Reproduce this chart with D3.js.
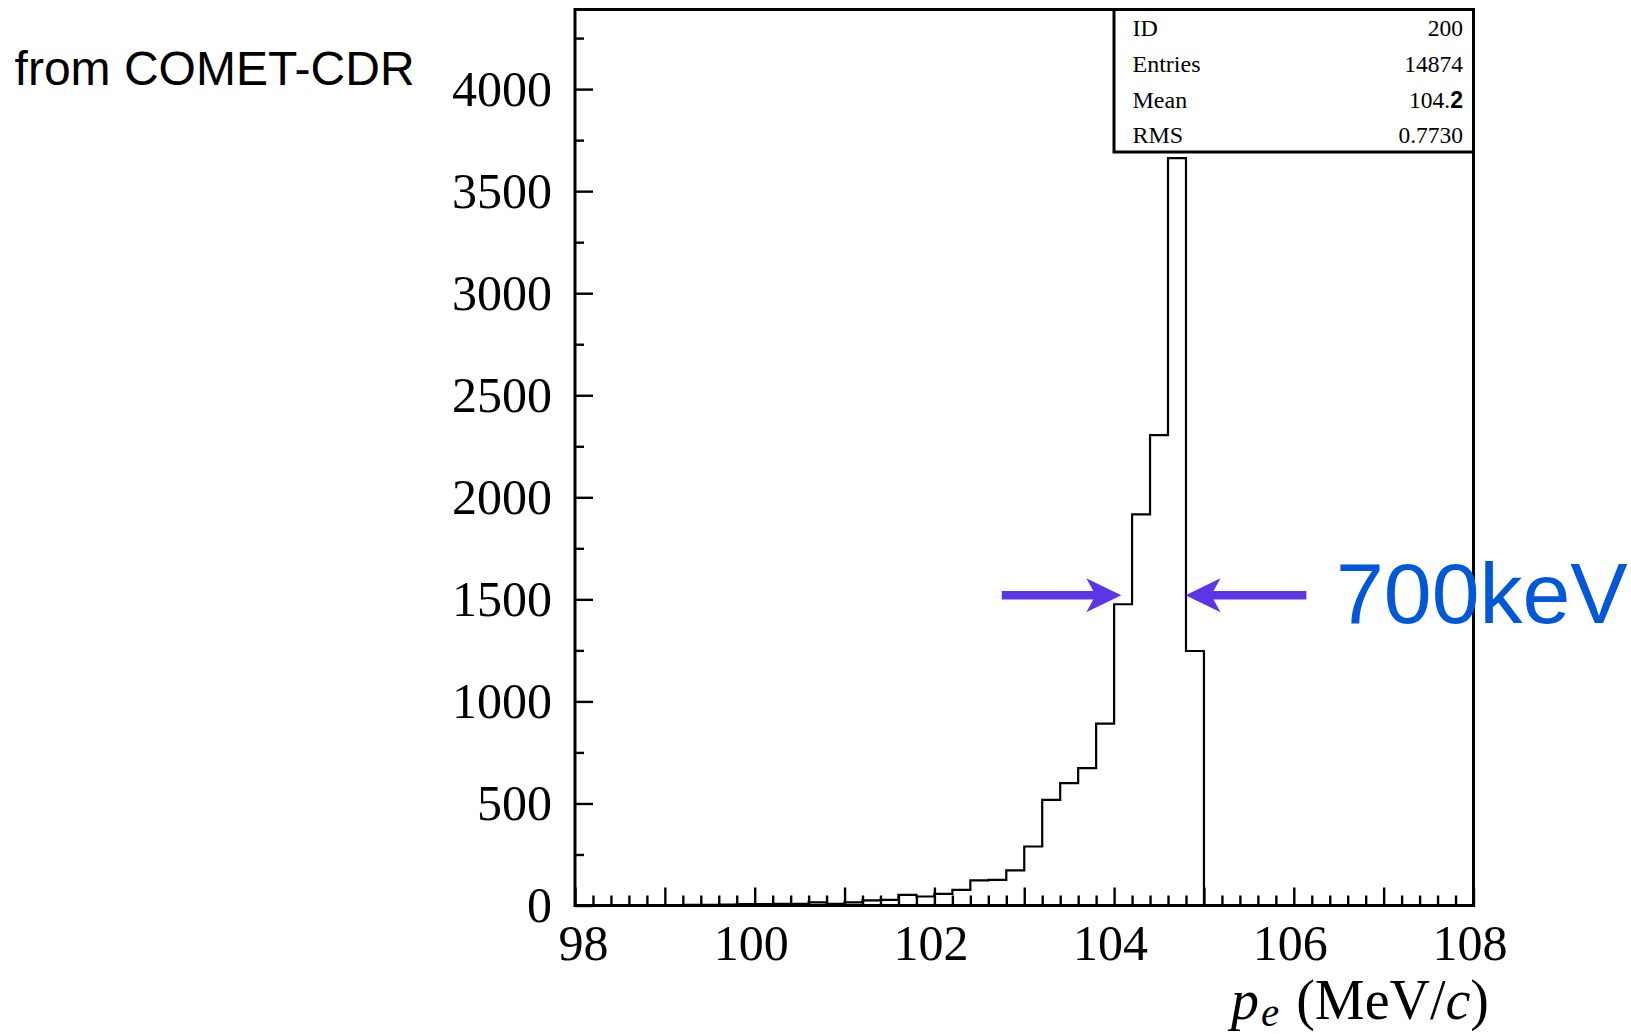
<!DOCTYPE html>
<html>
<head>
<meta charset="utf-8">
<script src="https://cdn.jsdelivr.net/npm/d3@7"></script>
<style>
  html, body { margin: 0; padding: 0; background: #fff; }
  svg { display: block; }
</style>
</head>
<body>
<svg id="chart" width="1631" height="1034"></svg>
<script>
// ---- data ----
const binEdgesStart = 98.0;      // first bin low edge (MeV/c)
const binWidth = 0.2;            // bin width (MeV/c)
const counts = [
  1, 1, 1, 2, 2, 2, 3, 3, 4, 7,
  7, 8, 8, 15, 8, 15, 25, 28, 52, 44,
  57, 77, 123, 126, 172, 289, 518, 600, 673, 891,
  1476, 1916, 2305, 3662, 1247, 0, 0, 0, 0, 0,
  0, 0, 0, 0, 0, 0, 0, 0, 0, 0
];
const xLabelTicks = [98, 100, 102, 104, 106, 108];
const xMajorTicks = [99, 101, 103, 105, 107];
const yLabelTicks = [0, 500, 1000, 1500, 2000, 2500, 3000, 3500, 4000];
const statNames = ["ID", "Entries", "Mean", "RMS"];
const statValues = ["200", "14874", "104.2", "0.7730"];
const widthAnnotation = { label: "700keV", level: 1520, leftFrom: 102.75, leftTo: 104.08, rightFrom: 106.14, rightTo: 104.795 };

// ---- layout ----
const svg = d3.select("#chart");
const L = 575, R = 1473.5, T = 9.5, B = 905.5;
const x = d3.scaleLinear().domain([98, 108]).range([L, R]);
const y = d3.scaleLinear().domain([0, 4390]).range([B, T]);
const serif = "'Liberation Serif', 'Times New Roman', serif";
const sans = "'Liberation Sans', Arial, sans-serif";

// minor ticks
const xMinor = d3.range(0, 51).map(i => 98 + i * 0.2).filter(v => Math.abs(v - Math.round(v)) > 1e-6);
const yMinor = d3.range(250, 4390, 500);

// y axis
const gy = svg.append("g").attr("transform", `translate(${L},0)`);
gy.call(d3.axisLeft(y).tickValues(yLabelTicks).tickSize(-18).tickPadding(23).tickFormat(d3.format("d")));
const gyMinor = svg.append("g").attr("transform", `translate(${L},0)`);
gyMinor.call(d3.axisLeft(y).tickValues(yMinor).tickSize(-9).tickFormat(""));

// x axis
const gx = svg.append("g").attr("transform", `translate(0,${B})`);
gx.call(d3.axisBottom(x).tickValues(xLabelTicks).tickSize(-18).tickPadding(19).tickFormat(d3.format("d")));
const gxMaj = svg.append("g").attr("transform", `translate(0,${B})`);
gxMaj.call(d3.axisBottom(x).tickValues(xMajorTicks).tickSize(-18).tickFormat(""));
const gxMin = svg.append("g").attr("transform", `translate(0,${B})`);
gxMin.call(d3.axisBottom(x).tickValues(xMinor).tickSize(-10).tickFormat(""));

svg.selectAll(".domain").remove();
svg.selectAll(".tick line").attr("stroke", "#000").attr("stroke-width", 2.4);
svg.selectAll(".tick text").attr("fill", "#000").attr("font-family", serif).attr("font-size", 50);
gx.selectAll(".tick text").attr("font-size", 50).attr("dx", d => d === 98 ? 8 : -4);

// histogram step outline
const pts = [[x(binEdgesStart), y(0)]];
counts.forEach((c, i) => {
  const x0 = binEdgesStart + i * binWidth, x1 = x0 + binWidth;
  pts.push([x(x0), y(c)], [x(x1), y(c)]);
});
pts.push([x(binEdgesStart + counts.length * binWidth), y(0)]);
svg.append("path")
  .attr("d", d3.line()(pts))
  .attr("fill", "none").attr("stroke", "#000").attr("stroke-width", 2.2)
  .attr("stroke-linejoin", "miter");

// frame
svg.append("rect").attr("x", L).attr("y", T).attr("width", R - L).attr("height", B - T)
  .attr("fill", "none").attr("stroke", "#000").attr("stroke-width", 3);

// stats box
const bx = 1114, by = T, bw = R - 1114, bh = 152 - T;
svg.append("rect").attr("x", bx).attr("y", by).attr("width", bw).attr("height", bh)
  .attr("fill", "#fff").attr("stroke", "#000").attr("stroke-width", 3);
statNames.forEach((n, i) => {
  const yy = 36.3 + i * 35.7;
  svg.append("text").attr("x", 1132.5).attr("y", yy).text(n)
    .attr("font-family", serif).attr("font-size", 24).attr("fill", "#000");
  const t = svg.append("text").attr("x", 1463).attr("y", yy).attr("text-anchor", "end")
    .attr("font-family", serif).attr("font-size", 23.5).attr("fill", "#000");
  if (n === "Mean") {
    const v = statValues[i];
    t.append("tspan").text(v.slice(0, -1));
    t.append("tspan").text(v.slice(-1)).attr("font-family", sans).attr("font-weight", "bold").attr("font-size", 23);
  } else {
    t.text(statValues[i]);
  }
});

// axis title
const title = svg.append("text").attr("x", 1489).attr("y", 1019).attr("text-anchor", "end")
  .attr("font-family", serif).attr("font-size", 56).attr("fill", "#000");
title.append("tspan").text("p").attr("font-style", "italic");
title.append("tspan").text("e").attr("font-style", "italic").attr("font-size", 41).attr("dx", 2).attr("dy", 7);
title.append("tspan").text(" (MeV/").attr("dy", -7).attr("dx", 3);
title.append("tspan").text("c").attr("font-style", "italic");
title.append("tspan").text(")");

// source note
svg.append("text").attr("x", 14.6).attr("y", 85).text("from COMET-CDR")
  .attr("font-family", sans).attr("font-size", 48).attr("fill", "#000");

// width annotation arrows
const arrowColor = "#5b35e6";
function arrow(fromV, toV, levelV) {
  const xf = x(fromV), xt = x(toV), yy = y(levelV);
  const dir = Math.sign(xt - xf);
  const headLen = 35, half = 17, notch = 7, shaft = 4.2;
  const xb = xt - dir * headLen;
  const p = [
    [xf, yy - shaft], [xb + dir * notch, yy - shaft], [xb, yy - half], [xt, yy],
    [xb, yy + half], [xb + dir * notch, yy + shaft], [xf, yy + shaft]
  ];
  svg.append("path").attr("d", d3.line()(p) + "Z").attr("fill", arrowColor);
}
arrow(widthAnnotation.leftFrom, widthAnnotation.leftTo, widthAnnotation.level);
arrow(widthAnnotation.rightFrom, widthAnnotation.rightTo, widthAnnotation.level);

svg.append("text").attr("x", 1336).attr("y", 623).text(widthAnnotation.label)
  .attr("font-family", sans).attr("font-size", 86).attr("fill", "#0057d9");
</script>
</body>
</html>
